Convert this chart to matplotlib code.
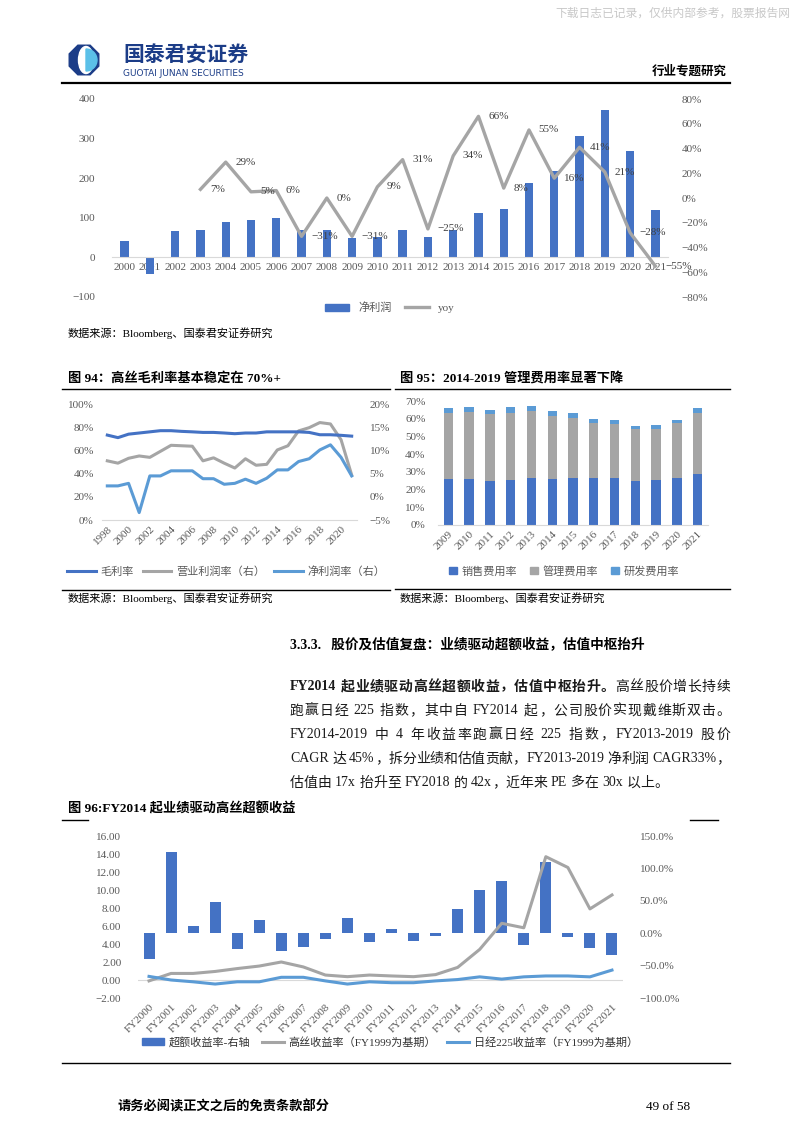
import re
import matplotlib
matplotlib.use('Agg')
import matplotlib.pyplot as plt
import matplotlib.patches as mpatches
from matplotlib.lines import Line2D
from matplotlib.ticker import FuncFormatter
import numpy as np

plt.rcParams['font.family'] = ['Liberation Serif', 'Noto Sans CJK SC', 'DejaVu Sans']
plt.rcParams['axes.unicode_minus'] = True

W, H = 794, 1123
BLUE = '#4472c4'
GRAY = '#a5a5a5'
LBLUE = '#5b9bd5'
TICK = '#595959'

# ---- 图93: 净利润 / yoy
np_years = [str(y) for y in range(2000, 2022)]
net_profit = [41, -43, 66, 69, 89, 94, 99, 68, 69, 48, 52, 68, 51, 68, 112, 121, 187, 217, 306, 372, 268, 120]
yoy = [None, None, None, 7, 29, 5, 6, -31, 0, -31, 9, 31, -25, 34, 66, 8, 55, 16, 41, 21, -28, -55]

# ---- 图94: 利润率
margin_years = list(range(1998, 2022))
gross_margin = [73.2, 71, 74, 75, 76, 77, 77, 76.4, 76, 75.5, 75.5, 75, 74.4, 75, 75, 76, 76, 76, 76, 75.5, 73.5, 73.5, 73, 72.3]
op_margin = [7.75, 7.25, 8.3, 8.8, 8.5, 9.8, 11.1, 11.0, 10.9, 7.75, 8.4, 7.25, 6.2, 8.2, 6.8, 7.0, 10.1, 11.0, 14.2, 14.9, 16.0, 15.7, 12.3, 4.7]
net_margin = [2.35, 2.35, 2.9, -3.4, 4.5, 4.5, 5.6, 5.6, 5.6, 3.9, 3.9, 2.7, 2.9, 3.8, 2.9, 4.0, 5.8, 5.8, 7.6, 8.2, 10.1, 11.2, 8.5, 4.5]

# ---- 图95: 费用率
exp_years = [str(y) for y in range(2009, 2022)]
sales_rate = [26, 26, 24.9, 25.2, 26.5, 26, 26.5, 26.5, 26.5, 24.9, 25.4, 26.5, 28.8]
admin_rate = [37.5, 38, 37.6, 38.3, 37.7, 35.6, 34.1, 31.3, 30.4, 29.1, 28.8, 30.9, 34.7]
rd_rate = [2.5, 2.7, 2.3, 3.2, 3.0, 2.6, 2.7, 1.9, 2.2, 1.9, 2.3, 1.7, 2.5]

# ---- 图96: 收益率
fy_labels = ['FY%d' % y for y in range(2000, 2022)]
excess_ret = [-40, 125, 11, 48, -25, 20, -27, -21, -9, 23, -14, 7, -12, -4, 38, 67, 81, -18, 110, -6, -23, -33]
kose_ret = [-0.1, 0.73, 0.73, 0.95, 1.27, 1.55, 2.0, 1.45, 0.55, 0.37, 0.55, 0.45, 0.37, 0.6, 1.4, 3.4, 6.3, 5.8, 13.7, 12.5, 7.9, 9.45]
nikkei_ret = [0.4, 0.0, -0.2, -0.45, -0.2, -0.2, 0.3, 0.3, -0.1, -0.45, -0.2, -0.3, -0.3, -0.1, 0.05, 0.35, 0.1, 0.35, 0.45, 0.45, 0.35, 1.1]


def rect(x0, y0, x1, y1):
    return [x0 / W, 1 - y1 / H, (x1 - x0) / W, (y1 - y0) / H]


def pct(decimals):
    if decimals == 0:
        return FuncFormatter(lambda v, p: ('%d%%' % round(v * 100)).replace('-', '\u2212'))
    return FuncFormatter(lambda v, p: ('%.1f%%' % (v * 100)).replace('-', '\u2212'))


def clean(ax, zero_color='#d9d9d9'):
    for s in ['top', 'left', 'right']:
        ax.spines[s].set_visible(False)
    ax.spines['bottom'].set_color(zero_color)
    ax.tick_params(axis='both', length=0, labelsize=8, colors=TICK)


fig = plt.figure(figsize=(W / 100, H / 100), dpi=100)

# page overlay in pixel coordinates
page = fig.add_axes([0, 0, 1, 1])
page.set_xlim(0, W)
page.set_ylim(H, 0)
page.axis('off')
page.set_zorder(-1)

# header
page.text(790, 14, '下载日志已记录，仅供内部参考，股票报告网', fontsize=8.5, color='#c8c8c8',
          ha='right', va='center')
oct_t = np.linspace(0, 2 * np.pi, 9)[:-1] + np.pi / 8
page.add_patch(mpatches.Polygon(np.c_[84 + 16 * np.cos(oct_t), 60 + 16 * np.sin(oct_t)], color='#1b3c87'))
page.add_patch(mpatches.Ellipse((86, 60), 15, 27, color='white'))
page.add_patch(mpatches.Wedge((86, 60), 11, -90, 90, color='#5bc0e8'))
page.text(123, 56, '国泰君安证券', fontsize=15, fontweight='bold', color='#1b3c87', va='center')
page.text(123, 73, 'GUOTAI JUNAN SECURITIES', fontsize=6.5, color='#1b3c87', va='center',
          family=['DejaVu Sans'])
page.text(727, 72, '行业专题研究', fontsize=9, fontweight='bold', ha='right', va='center')
page.plot([62, 730], [83, 83], color='black', lw=1.6)

# ---------------- 图93
ax = fig.add_axes(rect(112, 99, 668, 297))
x = np.arange(len(np_years))
ax.bar(x, net_profit, width=0.33, color=BLUE, zorder=2)
ax.set_xlim(-0.5, len(np_years) - 0.5)
ax.set_ylim(-100, 400)
ax.set_yticks(range(-100, 401, 100))
ax.yaxis.set_major_formatter(FuncFormatter(lambda v, p: ('%d' % round(v)).replace('-', '\u2212')))
clean(ax)
ax.spines['bottom'].set_position(('data', 0))
ax.set_xticks(x, np_years)
ax.tick_params(axis='x', pad=4)
ax.tick_params(axis='y', pad=12)
ax2 = ax.twinx()
yx = [i for i, v in enumerate(yoy) if v is not None]
yv = [yoy[i] / 100 for i in yx]
ax2.plot(yx, yv, color=GRAY, lw=2.4, zorder=3)
ax2.set_ylim(-0.8, 0.8)
ax2.set_yticks(np.linspace(-0.8, 0.8, 9))
ax2.yaxis.set_major_formatter(pct(0))
for s in ax2.spines.values():
    s.set_visible(False)
ax2.tick_params(axis='y', length=0, labelsize=8, colors=TICK, pad=10)
for i, v in zip(yx, yv):
    ax2.annotate(('%d%%' % round(v * 100)).replace('-', '\u2212'), (i, v), xytext=(7, 0),
                 textcoords='offset points', va='center', ha='left', fontsize=8, color='#404040')
ax.legend([mpatches.Patch(color=BLUE), Line2D([], [], color=GRAY, lw=2.4)], ['净利润', 'yoy'],
          loc='center', bbox_to_anchor=(390 / W, 1 - 308 / H), bbox_transform=fig.transFigure,
          ncol=2, frameon=False, fontsize=8, handlelength=2.2, columnspacing=1.2,
          labelcolor=TICK)
page.text(68, 333, '数据来源：Bloomberg、国泰君安证券研究', fontsize=8, va='center')

# ---------------- 图94
page.text(68, 378, '图 94：高丝毛利率基本稳定在 70%+', fontsize=9.5, fontweight='bold', va='center')
page.plot([62, 390], [389, 389], color='black', lw=1)
a4 = fig.add_axes(rect(102, 404, 357, 520))
xm = np.arange(len(margin_years))
a4.plot(xm, np.array(gross_margin) / 100, color=BLUE, lw=2.2, zorder=3)
a4.set_ylim(0, 1)
a4.set_yticks(np.linspace(0, 1, 6))
a4.yaxis.set_major_formatter(pct(0))
a4.set_xlim(-0.5, len(margin_years) - 0.5)
a4.set_xticks(xm[::2], [str(y) for y in margin_years[::2]], rotation=45, ha='right',
              rotation_mode='anchor')
clean(a4)
a4.tick_params(axis='y', pad=6)
a4.tick_params(axis='x', pad=3)
b4 = a4.twinx()
b4.plot(xm, np.array(op_margin) / 100, color=GRAY, lw=2.2)
b4.plot(xm, np.array(net_margin) / 100, color=LBLUE, lw=2.2)
b4.set_ylim(-0.05, 0.2)
b4.set_yticks(np.linspace(-0.05, 0.2, 6))
b4.yaxis.set_major_formatter(pct(0))
for s in b4.spines.values():
    s.set_visible(False)
b4.tick_params(axis='y', length=0, labelsize=8, colors=TICK, pad=9)
a4.set_zorder(b4.get_zorder() + 1)
a4.patch.set_visible(False)
a4.legend([Line2D([], [], color=c, lw=2.2) for c in (BLUE, GRAY, LBLUE)],
          ['毛利率', '营业利润率（右）', '净利润率（右）'], loc='center',
          bbox_to_anchor=(226 / W, 1 - 572 / H), bbox_transform=fig.transFigure, ncol=3,
          frameon=False, fontsize=8, handlelength=2.6, columnspacing=0.8, handletextpad=0.4,
          labelcolor=TICK)
page.plot([62, 390], [590, 590], color='black', lw=1)
page.text(68, 598, '数据来源：Bloomberg、国泰君安证券研究', fontsize=8, va='center')

# ---------------- 图95
page.text(400, 378, '图 95：2014-2019 管理费用率显著下降', fontsize=9.5, fontweight='bold', va='center')
page.plot([395, 730], [389, 389], color='black', lw=1)
a5 = fig.add_axes(rect(438, 401, 708, 525))
xe = np.arange(len(exp_years))
s = np.array(sales_rate) / 100
m = np.array(admin_rate) / 100
r = np.array(rd_rate) / 100
a5.bar(xe, s, width=0.45, color=BLUE)
a5.bar(xe, m, bottom=s, width=0.45, color=GRAY)
a5.bar(xe, r, bottom=s + m, width=0.45, color=LBLUE)
a5.set_xlim(-0.5, len(exp_years) - 0.5)
a5.set_ylim(0, 0.7)
a5.set_yticks(np.linspace(0, 0.7, 8))
a5.yaxis.set_major_formatter(pct(0))
a5.set_xticks(xe, exp_years, rotation=45, ha='right', rotation_mode='anchor')
clean(a5)
a5.tick_params(axis='y', pad=9)
a5.tick_params(axis='x', pad=3)
a5.legend([mpatches.Patch(color=c) for c in (BLUE, GRAY, LBLUE)],
          ['销售费用率', '管理费用率', '研发费用率'], loc='center',
          bbox_to_anchor=(564 / W, 1 - 571 / H), bbox_transform=fig.transFigure, ncol=3,
          frameon=False, fontsize=8, handlelength=0.7, handleheight=0.7, columnspacing=1.2,
          handletextpad=0.4, labelcolor=TICK)
page.plot([395, 730], [589, 589], color='black', lw=1)
page.text(400, 598, '数据来源：Bloomberg、国泰君安证券研究', fontsize=8, va='center')

# ---------------- 正文
page.text(290, 645, '3.3.3.   股价及估值复盘：业绩驱动超额收益，估值中枢抬升', fontsize=9.8,
          fontweight='bold', va='center')

para = [
    [('FY2014 起业绩驱动高丝超额收益，估值中枢抬升。', True), ('高丝股价增长持续', False)],
    [('跑赢日经 225 指数，其中自 FY2014 起，公司股价实现戴维斯双击。', False)],
    [('FY2014-2019 中 4 年收益率跑赢日经 225 指数，FY2013-2019 股价', False)],
    [('CAGR 达 45%，拆分业绩和估值贡献，FY2013-2019 净利润 CAGR33%，', False)],
    [('估值由 17x 抬升至 FY2018 的 42x，近年来 PE 多在 30x 以上。', False)],
]
renderer = fig.canvas.get_renderer()
for li, segs in enumerate(para):
    y = 687 + li * 24
    toks = []
    for txt, bold in segs:
        for t in re.findall(r'[A-Za-z0-9%\.\-]+| +|.', txt):
            toks.append((t, bold))
    objs, widths = [], []
    for t, bold in toks:
        if t.strip() == '':
            objs.append(None)
            widths.append(3.5 * len(t))
            continue
        o = page.text(0, y, t, fontsize=10, fontweight='bold' if bold else 'normal',
                      va='center', ha='left', color='#1a1a1a')
        objs.append(o)
        widths.append(o.get_window_extent(renderer).width)
    extra = 0
    if li < len(para) - 1:
        extra = (440 - sum(widths)) / max(len(toks) - 1, 1)
    xpos = 290
    for o, w in zip(objs, widths):
        if o is not None:
            o.set_x(xpos)
        xpos += w + extra

# ---------------- 图96
page.text(68, 809, '图 96:FY2014 起业绩驱动高丝超额收益', fontsize=9.5, fontweight='bold', va='center')
page.plot([62, 88], [820, 820], color='black', lw=1)
page.plot([690, 718], [820, 820], color='black', lw=1)
a6 = fig.add_axes(rect(138, 836, 623, 998))
xf = np.arange(len(fy_labels))
a6.plot(xf, kose_ret, color=GRAY, lw=2.2, zorder=3)
a6.plot(xf, nikkei_ret, color=LBLUE, lw=2.2, zorder=3)
a6.axhline(0, color='#d9d9d9', lw=0.8)
a6.set_ylim(-2, 16)
a6.set_yticks(np.arange(-2, 16.1, 2))
a6.yaxis.set_major_formatter(FuncFormatter(lambda v, p: ('%.2f' % v).replace('-', '\u2212')))
a6.set_xlim(-0.5, len(fy_labels) - 0.5)
a6.set_xticks(xf, fy_labels, rotation=45, ha='right', rotation_mode='anchor')
clean(a6)
a6.spines['bottom'].set_visible(False)
a6.tick_params(axis='y', pad=12)
a6.tick_params(axis='x', pad=3)
b6 = a6.twinx()
b6.bar(xf, np.array(excess_ret) / 100, width=0.5, color=BLUE)
b6.set_ylim(-1, 1.5)
b6.set_yticks(np.linspace(-1, 1.5, 6))
b6.yaxis.set_major_formatter(pct(1))
for sp in b6.spines.values():
    sp.set_visible(False)
b6.tick_params(axis='y', length=0, labelsize=8, colors=TICK, pad=12)
a6.set_zorder(b6.get_zorder() + 1)
a6.patch.set_visible(False)
a6.legend([mpatches.Patch(color=BLUE), Line2D([], [], color=GRAY, lw=2.2),
           Line2D([], [], color=LBLUE, lw=2.2)],
          ['超额收益率-右轴', '高丝收益率（FY1999为基期）', '日经225收益率（FY1999为基期）'],
          loc='center', bbox_to_anchor=(390 / W, 1 - 1042 / H), bbox_transform=fig.transFigure,
          ncol=3, frameon=False, fontsize=8, handlelength=2.0, columnspacing=1.0,
          handletextpad=0.4, labelcolor='#333333')
page.plot([62, 730], [1063, 1063], color='black', lw=1)

# footer
page.text(118, 1107, '请务必阅读正文之后的免责条款部分', fontsize=9.5, fontweight='bold', va='center')
page.text(690, 1107, '49 of 58', fontsize=9.5, ha='right', va='center')

fig.savefig('out.png', dpi=100)
